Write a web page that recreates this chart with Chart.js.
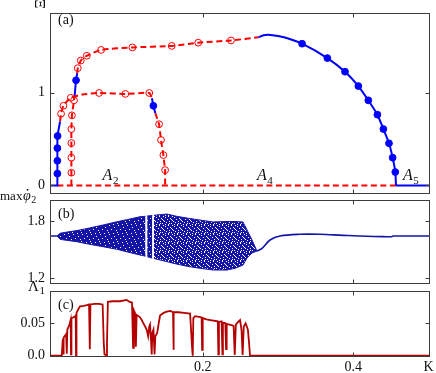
<!DOCTYPE html>
<html>
<head>
<meta charset="utf-8">
<script src="https://cdn.jsdelivr.net/npm/chart.js@4.4.1/dist/chart.umd.min.js"></script>
<style>
  html, body { margin: 0; padding: 0; background: #fff; }
  #wrap { position: relative; width: 436px; height: 373px; }
  #wrap canvas { position: absolute; left: 0; top: 0; }
</style>
</head>
<body>
<div id="wrap">
  <canvas id="chartA" width="436" height="373"></canvas>
  <canvas id="chartB" width="436" height="373"></canvas>
  <canvas id="chartC" width="436" height="373"></canvas>
</div>
<script>
'use strict';

/* shared K axis */
const K_RANGE = [-0.0029, 0.5019];
const K_TICKS = [0.2, 0.4];
const K_END = 0.5;

/* (a) amplitude branches, [K, Xi] */
const a1Line = [[-0.003, 0], [0.0069, 0], [0.0069, 0.533], [0.0105, 0.69]];
const a1Dots = [[0.0069, 0.127], [0.0069, 0.265], [0.0069, 0.402], [0.0072, 0.533]];
const zeroUnstable = [[0.0069, 0], [0.4567, 0]];
const a2Line1 = [[0.0105, 0.69], [0.0118, 0.773], [0.0149, 0.859], [0.0247, 0.945], [0.040, 0.980],
  [0.0623, 0.997], [0.0972, 0.987], [0.129, 0.997], [0.1325, 0.94]];
const a2Open1 = [[0.0118, 0.773], [0.0149, 0.859], [0.0247, 0.945], [0.0623, 0.997], [0.0972, 0.987], [0.129, 0.997]];
const a2Stable = [[0.1325, 0.94], [0.1344, 0.859], [0.137, 0.78]];
const a2Dots = [[0.1344, 0.859]];
const a2Line2 = [[0.137, 0.78], [0.142, 0.66], [0.1446, 0.49], [0.1477, 0.327], [0.150, 0.165], [0.150, 0]];
const a2Open2 = [[0.142, 0.66], [0.1446, 0.49], [0.1477, 0.327], [0.150, 0.165]];
const a3Line = [[0.0255, 0], [0.0255, 0.608], [0.0262, 0.756], [0.029, 0.918], [0.0298, 0.97]];
const a3Open = [[0.0255, 0.137], [0.0255, 0.299], [0.0255, 0.457], [0.0255, 0.608], [0.0262, 0.756], [0.029, 0.918]];
const a3Stable = [[0.0298, 0.97], [0.0317, 1.134], [0.0332, 1.21]];
const a3Dots = [[0.0317, 1.134]];
const a4Unstable = [[0.0332, 1.21], [0.034, 1.265], [0.038, 1.347], [0.046, 1.399], [0.065, 1.462],
  [0.1065, 1.489], [0.1588, 1.505], [0.194, 1.54], [0.2376, 1.564], [0.274, 1.598]];
const a4Open = [[0.034, 1.265], [0.038, 1.347], [0.046, 1.399], [0.065, 1.462], [0.1065, 1.489],
  [0.1588, 1.505], [0.194, 1.54], [0.2376, 1.564]];
const a4Stable = [[0.274, 1.598], [0.281, 1.621], [0.287, 1.626], [0.300, 1.612], [0.3115, 1.59],
  [0.332, 1.529], [0.3655, 1.374], [0.389, 1.227], [0.4067, 1.072], [0.420, 0.918], [0.432, 0.763],
  [0.440, 0.608], [0.4474, 0.454], [0.4523, 0.299], [0.4558, 0.144], [0.4567, 0]];
const a4Dots = [[0.332, 1.529], [0.3655, 1.374], [0.389, 1.227], [0.4067, 1.072], [0.420, 0.918],
  [0.432, 0.763], [0.440, 0.608], [0.4474, 0.454], [0.4523, 0.299], [0.4558, 0.144]];
const a5Line = [[0.4567, 0], [0.502, 0]];

/* (b) max phi2-dot: chaotic band envelope (null = periodic window) and regular branch */
const bandK     = [0.0065, 0.0105, 0.020, 0.033, 0.050, 0.0676, 0.0862, 0.100, 0.1167, 0.1240, null,
  0.1262, 0.1330, null, 0.1352, 0.1526, 0.165, 0.180, 0.1964, 0.2137, 0.2323, 0.2429, 0.2535, 0.2588, 0.2655, 0.272];
const bandUpper = [1.643, 1.672, 1.685, 1.700, 1.728, 1.758, 1.793, 1.815, 1.845, 1.850, null,
  1.853, 1.857, null, 1.860, 1.873, 1.850, 1.830, 1.810, 1.790, 1.795, 1.795, 1.790, 1.706, 1.601, 1.486];
const bandLower = [1.643, 1.608, 1.597, 1.583, 1.556, 1.531, 1.504, 1.476, 1.444, 1.432, null,
  1.426, 1.412, null, 1.408, 1.374, 1.350, 1.325, 1.305, 1.287, 1.287, 1.305, 1.339, 1.413, 1.465, 1.486];
const regK1   = [-0.003, 0.0065];
const regPhi1 = [1.643, 1.643];
const regK2   = [0.272, 0.2788, 0.2894, 0.3027, 0.329, 0.3558, 0.3863, 0.418, 0.445, 0.451, 0.4527, 0.502];
const regPhi2 = [1.486, 1.514, 1.601, 1.643, 1.661, 1.661, 1.650, 1.640, 1.636, 1.636, 1.643, 1.643];

/* (c) largest Lyapunov exponent */
const lyapK = [-0.003, 0.0127, 0.0140, 0.0148, 0.0150, 0.0154, 0.0185, 0.0192, 0.0196, 0.0201,
  0.0230, 0.0245, 0.0250, 0.0256, 0.0300, 0.0312, 0.0317, 0.0323, 0.0348, 0.0370,
  0.0420, 0.0460, 0.0490, 0.0500, 0.0508, 0.0560, 0.0620, 0.0670, 0.0685, 0.0695,
  0.0715, 0.0728, 0.0740, 0.0800, 0.0900, 0.0990, 0.1030, 0.1060, 0.1075, 0.1085,
  0.1100, 0.1112, 0.1122, 0.1160, 0.1190, 0.1212, 0.1235, 0.1256, 0.1275, 0.1290,
  0.1300, 0.1315, 0.1322, 0.1330, 0.1345, 0.1360, 0.1370, 0.1395, 0.1415, 0.1433,
  0.1480, 0.1522, 0.1570, 0.1605, 0.1610, 0.1617, 0.1680, 0.1750, 0.1832, 0.1860,
  0.1867, 0.1875, 0.1900, 0.1950, 0.1985, 0.1992, 0.2000, 0.2050, 0.2100, 0.2200,
  0.2208, 0.2215, 0.2250, 0.2262, 0.2268, 0.2300, 0.2310, 0.2318, 0.2380, 0.2410,
  0.2425, 0.2440, 0.2470, 0.2496, 0.2515, 0.2530, 0.2545, 0.2570, 0.2600, 0.2615,
  0.2628, 0.5020];
const lyapVal = [0, 0, 0.024, 0.026, 0.002, 0.028, 0.033, 0.036, 0.003, 0.040,
  0.048, 0.055, 0.002, 0.058, 0.060, 0.062, 0.000, 0.066, 0.072, 0.076,
  0.077, 0.078, 0.079, 0.010, 0.079, 0.080, 0.080, 0.079, 0.020, 0.002,
  0.001, 0.020, 0.083, 0.084, 0.084, 0.086, 0.083, 0.082, 0.012, 0.070,
  0.066, 0.014, 0.063, 0.060, 0.055, 0.050, 0.045, 0.040, 0.030, 0.045,
  0.048, 0.020, 0.002, 0.035, 0.040, 0.002, 0.030, 0.035, 0.050, 0.062,
  0.066, 0.068, 0.069, 0.067, 0.009, 0.067, 0.067, 0.066, 0.065, 0.010,
  0.000, 0.058, 0.061, 0.060, 0.059, 0.009, 0.058, 0.056, 0.055, 0.053,
  0.002, 0.052, 0.053, 0.002, 0.051, 0.050, 0.010, 0.049, 0.047, 0.046,
  0.001, 0.048, 0.052, 0.055, 0.040, 0.001, 0.045, 0.050, 0.040, 0.020,
  0.000, 0];

/* look */
const SERIF = '"Liberation Serif", "DejaVu Serif", serif';
const BLUE = '#0000ff';
const RED = '#ff0000';
const NAVY = '#1414a8';
const DARKRED = '#b40000';
const FRAME = '#3c3c3c';
const DASH = [6, 3.5];

const pairs = arr => arr.map(([x, y]) => ({ x, y }));
const zip = (xs, ys) => xs.map((x, i) => ({ x, y: ys[i] }));

function lineDs(data, color, dash, width, tension) {
  return {
    data, showLine: true, borderColor: color, borderWidth: width || 2,
    borderDash: dash || [], pointRadius: 0, tension: tension || 0, fill: false,
  };
}

function markDs(data, color, filled) {
  return {
    data, showLine: false, pointRadius: 3.4, pointBorderWidth: 1,
    pointBorderColor: color,
    pointBackgroundColor: filled ? color : 'rgba(0,0,0,0)',
  };
}

/* frame with inward ticks on all four sides */
function makeFrame(yTicks) {
  return {
    id: 'frame',
    afterDraw(chart) {
      const { ctx, chartArea: a, scales } = chart;
      const l = Math.round(a.left) + 0.5, r = Math.round(a.right) - 0.5;
      const t = Math.round(a.top) + 0.5, b = Math.round(a.bottom) - 0.5;
      ctx.save();
      ctx.strokeStyle = FRAME;
      ctx.lineWidth = 1;
      ctx.strokeRect(l, t, r - l, b - t);
      ctx.beginPath();
      K_TICKS.forEach((v) => {
        const x = Math.round(scales.x.getPixelForValue(v)) + 0.5;
        ctx.moveTo(x, t); ctx.lineTo(x, t + 4);
        ctx.moveTo(x, b); ctx.lineTo(x, b - 4);
      });
      yTicks.forEach((v) => {
        const y = Math.round(scales.y.getPixelForValue(v)) + 0.5;
        ctx.moveTo(l, y); ctx.lineTo(l + 4, y);
        ctx.moveTo(r, y); ctx.lineTo(r - 4, y);
      });
      ctx.stroke();
      ctx.restore();
    },
  };
}

/* text with subscript */
function subText(ctx, main, sub, x, y, size, italic) {
  ctx.font = (italic ? 'italic ' : '') + size + 'px ' + SERIF;
  ctx.fillText(main, x, y);
  const w = ctx.measureText(main).width;
  ctx.font = Math.round(size * 0.7) + 'px ' + SERIF;
  ctx.fillText(sub, x + w + 0.5, y + size * 0.22);
}

function makeOptions(yMin, yMax, yTicks, yLabels, padTop, padBottom, showX) {
  return {
    responsive: false,
    animation: false,
    events: [],
    layout: { padding: { left: 0, right: 6, top: padTop, bottom: padBottom } },
    plugins: { legend: { display: false }, tooltip: { enabled: false } },
    scales: {
      x: {
        type: 'linear', min: K_RANGE[0], max: K_RANGE[1], display: showX,
        grid: { display: false, drawTicks: false }, border: { display: false },
        afterBuildTicks: (s) => { s.ticks = [...K_TICKS, K_END].map((v) => ({ value: v })); },
        afterFit: (s) => { s.height = showX ? 16 : 0; },
        ticks: {
          padding: 2, color: '#111', maxRotation: 0, autoSkip: false,
          font: { size: 14, family: SERIF },
          callback: (v) => (v === K_END ? 'K' : v.toFixed(1)),
        },
      },
      y: {
        type: 'linear', min: yMin, max: yMax,
        grid: { display: false, drawTicks: false }, border: { display: false },
        afterBuildTicks: (s) => { s.ticks = yTicks.map((v) => ({ value: v })); },
        afterFit: (s) => { s.width = 50; },
        ticks: {
          padding: 5, color: '#111', font: { size: 14, family: SERIF },
          callback: (v, i) => yLabels[i],
        },
      },
    },
  };
}

/* ---------- (a) ---------- */
const textA = {
  id: 'textA',
  afterDraw(chart) {
    const { ctx, scales } = chart;
    ctx.save();
    ctx.fillStyle = '#111';
    ctx.textBaseline = 'alphabetic';
    ctx.font = '14px ' + SERIF;
    ctx.fillText('(a)', 58, 24);
    subText(ctx, 'A', '2', scales.x.getPixelForValue(0.067), 180, 16, true);
    subText(ctx, 'A', '4', scales.x.getPixelForValue(0.272), 180, 16, true);
    subText(ctx, 'A', '5', scales.x.getPixelForValue(0.466), 180, 16, true);
    ctx.translate(41, 4);
    ctx.rotate(-Math.PI / 2);
    ctx.textAlign = 'center';
    ctx.textBaseline = 'middle';
    ctx.font = '15px ' + SERIF;
    ctx.fillText('\u039E', 0, 0);
    ctx.restore();
  },
};

new Chart(document.getElementById('chartA'), {
  type: 'line',
  data: {
    datasets: [
      markDs(pairs(a1Dots), BLUE, true),
      markDs(pairs(a2Dots), BLUE, true),
      markDs(pairs(a3Dots), BLUE, true),
      markDs(pairs(a4Dots), BLUE, true),
      markDs(pairs(a2Open1), RED, false),
      markDs(pairs(a2Open2), RED, false),
      markDs(pairs(a3Open), RED, false),
      markDs(pairs(a4Open), RED, false),
      lineDs(pairs(a1Line), BLUE, null, 2),
      lineDs(pairs(a2Stable), BLUE, null, 2),
      lineDs(pairs(a3Stable), BLUE, null, 2),
      lineDs(pairs(a4Stable), BLUE, null, 2, 0.25),
      lineDs(pairs(a5Line), BLUE, null, 2),
      lineDs(pairs(a2Line1), RED, DASH, 2, 0.2),
      lineDs(pairs(a2Line2), RED, DASH, 2),
      lineDs(pairs(a3Line), RED, DASH, 2),
      lineDs(pairs(a4Unstable), RED, DASH, 2, 0.2),
      lineDs(pairs(zeroUnstable), RED, DASH, 2),
    ],
  },
  options: makeOptions(-0.093, 1.856, [0, 1], ['0', '1'], 5, 179, false),
  plugins: [makeFrame([0, 1]), textA],
});

/* ---------- (b) ---------- */
// speckled fill for the chaotic band; holes are a fixed texture, not data
function speckle(color, holes) {
  const n = 9;
  const tile = document.createElement('canvas');
  tile.width = n; tile.height = n;
  const c = tile.getContext('2d');
  c.fillStyle = color;
  c.fillRect(0, 0, n, n);
  holes.forEach(([x, y]) => c.clearRect(x, y, 1, 1));
  return c.createPattern(tile, 'repeat');
}

const HOLES_DENSE = [[1, 0], [6, 2], [3, 4], [8, 5], [0, 7], [5, 8]];
const HOLES_SPARSE = [[1, 0], [6, 0], [3, 1], [8, 2], [0, 3], [5, 3], [2, 5], [7, 5], [4, 6],
  [0, 7], [6, 8], [3, 8], [1, 4], [7, 7]];

function bandSegments() {
  const segs = [];
  let cur = [];
  bandK.forEach((k, i) => {
    if (k === null) { segs.push(cur); cur = []; return; }
    cur.push(i);
  });
  segs.push(cur);
  return segs;
}

const bandDatasets = [];
bandSegments().forEach((idx, s, all) => {
  const fillStyle = speckle(NAVY, s === all.length - 1 ? HOLES_SPARSE : HOLES_DENSE);
  bandDatasets.push({
    data: idx.map((i) => ({ x: bandK[i], y: bandUpper[i] })),
    showLine: true, borderColor: NAVY, borderWidth: 1, pointRadius: 0, fill: false,
  });
  bandDatasets.push({
    data: idx.map((i) => ({ x: bandK[i], y: bandLower[i] })),
    showLine: true, borderColor: NAVY, borderWidth: 1, pointRadius: 0,
    fill: '-1', backgroundColor: fillStyle,
  });
});

const textB = {
  id: 'textB',
  afterDraw(chart) {
    const { ctx } = chart;
    ctx.save();
    ctx.fillStyle = '#111';
    ctx.font = '14px ' + SERIF;
    ctx.fillText('(b)', 58, 218);
    ctx.font = '13px ' + SERIF;
    ctx.fillText('max', 0, 200);
    const w = ctx.measureText('max').width;
    ctx.font = 'italic 14px ' + SERIF;
    ctx.fillText('\u03C6', w + 0.5, 200);
    const wp = ctx.measureText('\u03C6').width;
    ctx.fillRect(w + 0.5 + wp / 2, 189, 1.6, 1.6);
    ctx.font = '10px ' + SERIF;
    ctx.fillText('2', w + wp + 1, 203);
    ctx.restore();
  },
};

new Chart(document.getElementById('chartB'), {
  type: 'line',
  data: {
    datasets: [
      lineDs(zip(regK1, regPhi1), NAVY, null, 1.6),
      lineDs(zip(regK2, regPhi2), NAVY, null, 1.6, 0.35),
      ...bandDatasets,
    ],
  },
  options: makeOptions(1.146, 2.02, [1.2, 1.8], ['1.2', '1.8'], 200, 89.5, false),
  plugins: [makeFrame([1.2, 1.8]), textB],
});

/* ---------- (c) ---------- */
const textC = {
  id: 'textC',
  afterDraw(chart) {
    const { ctx } = chart;
    ctx.save();
    ctx.fillStyle = '#111';
    ctx.font = '14px ' + SERIF;
    ctx.fillText('(c)', 58, 309);
    subText(ctx, '\u039B', '1', 28, 291, 15, false);
    ctx.restore();
  },
};

new Chart(document.getElementById('chartC'), {
  type: 'line',
  data: {
    datasets: [lineDs(zip(lyapK, lyapVal), DARKRED, null, 1.8)],
  },
  options: makeOptions(-0.002, 0.0998, [0, 0.05], ['0.0', '0.05'], 291, 0, true),
  plugins: [makeFrame([0, 0.05]), textC],
});
</script>
</body>
</html>
